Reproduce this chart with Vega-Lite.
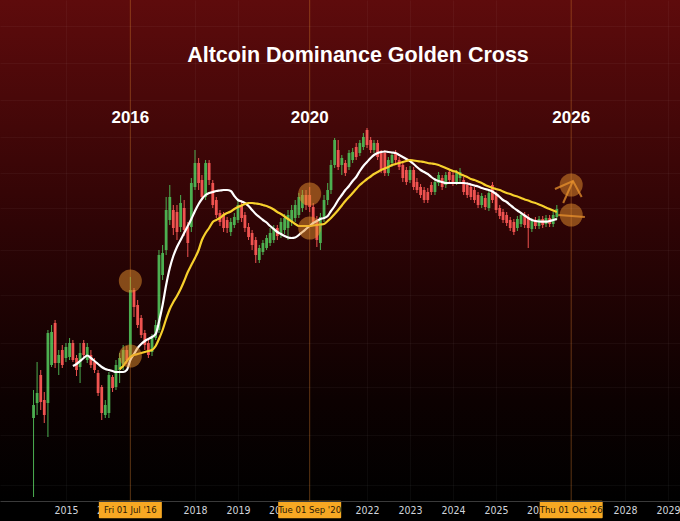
{
"$schema": "https://vega.github.io/schema/vega-lite/v6.json",
"width": 680, "height": 501, "padding": {"left":0,"right":0,"top":0,"bottom":20}, "autosize": {"type": "none"},
"background": "#000000",
"config": {"view": {"stroke": null}},
"datasets": {
"candles": [
{"date":"2014-04-01","open":10.3,"close":11.6,"high":13.1,"low":2.4},
{"date":"2014-05-01","open":11.8,"close":12.8,"high":15.9,"low":10.6},
{"date":"2014-06-01","open":14.6,"close":11.9,"high":15.1,"low":11.1},
{"date":"2014-07-01","open":12.1,"close":10.6,"high":12.9,"low":9.8},
{"date":"2014-08-01","open":11.8,"close":18.8,"high":19.1,"low":8.4},
{"date":"2014-09-01","open":15.6,"close":18.9,"high":19.6,"low":15.4},
{"date":"2014-10-01","open":19.8,"close":15.8,"high":20.1,"low":15.3},
{"date":"2014-11-01","open":15.8,"close":16.6,"high":17.1,"low":14.6},
{"date":"2014-12-01","open":17.1,"close":15.6,"high":17.6,"low":15.3},
{"date":"2015-01-01","open":16.3,"close":17.4,"high":17.8,"low":15.9},
{"date":"2015-02-01","open":16.4,"close":17.8,"high":18.3,"low":16.1},
{"date":"2015-03-01","open":17.8,"close":16.1,"high":18.1,"low":15.9,"fast":15.5},
{"date":"2015-04-01","open":16.3,"close":15.1,"high":16.6,"low":14.5,"fast":15.7},
{"date":"2015-05-01","open":15.4,"close":16.8,"high":17.8,"low":13.8,"fast":16.0},
{"date":"2015-06-01","open":17.8,"close":16.6,"high":18.1,"low":16.3,"fast":16.3},
{"date":"2015-07-01","open":16.1,"close":17.4,"high":17.8,"low":15.8,"fast":16.55},
{"date":"2015-08-01","open":16.6,"close":15.6,"high":17.1,"low":15.3,"fast":16.3},
{"date":"2015-09-01","open":15.9,"close":15.1,"high":16.3,"low":14.8,"fast":16.0},
{"date":"2015-10-01","open":14.8,"close":12.8,"high":15.1,"low":12.5,"fast":15.7},
{"date":"2015-11-01","open":13.4,"close":10.8,"high":13.6,"low":10.1,"fast":15.4},
{"date":"2015-12-01","open":10.6,"close":11.6,"high":12.1,"low":10.3,"fast":15.2},
{"date":"2016-01-01","open":10.8,"close":14.6,"high":14.9,"low":10.3,"fast":15.1},
{"date":"2016-02-01","open":14.4,"close":13.3,"high":14.6,"low":12.9,"fast":15.0},
{"date":"2016-03-01","open":13.4,"close":15.6,"high":16.1,"low":13.1,"fast":14.9},
{"date":"2016-04-01","open":15.1,"close":16.3,"high":16.8,"low":13.8,"fast":14.9,"slow":15.2},
{"date":"2016-05-01","open":15.6,"close":17.1,"high":17.6,"low":15.1,"fast":14.9,"slow":15.5},
{"date":"2016-06-01","open":17.1,"close":16.1,"high":17.5,"low":15.7,"fast":15.1,"slow":16.0},
{"date":"2016-07-01","open":16.4,"close":23.1,"high":24.4,"low":16.1,"fast":16.1,"slow":16.4},
{"date":"2016-08-01","open":23.1,"close":21.4,"high":23.3,"low":20.4,"fast":16.7,"slow":16.6},
{"date":"2016-09-01","open":21.6,"close":19.6,"high":22.1,"low":19.3,"fast":17.3,"slow":16.7},
{"date":"2016-10-01","open":20.3,"close":18.6,"high":20.6,"low":18.3,"fast":17.7,"slow":16.8},
{"date":"2016-11-01","open":18.8,"close":17.6,"high":19.1,"low":17.1,"fast":18.0,"slow":16.9},
{"date":"2016-12-01","open":17.8,"close":16.6,"high":18.1,"low":16.3,"fast":18.2,"slow":17.0},
{"date":"2017-01-01","open":16.9,"close":18.3,"high":18.7,"low":16.5,"fast":18.4,"slow":17.1},
{"date":"2017-02-01","open":18.3,"close":19.6,"high":20.1,"low":18.1,"fast":18.7,"slow":17.5},
{"date":"2017-03-01","open":19.1,"close":26.6,"high":27.1,"low":18.8,"fast":19.9,"slow":18.2},
{"date":"2017-04-01","open":24.6,"close":26.8,"high":27.6,"low":24.1,"fast":21.6,"slow":19.1},
{"date":"2017-05-01","open":27.1,"close":31.1,"high":32.4,"low":26.6,"fast":23.6,"slow":20.2},
{"date":"2017-06-01","open":30.1,"close":32.4,"high":33.6,"low":29.6,"fast":25.3,"slow":21.2},
{"date":"2017-07-01","open":31.1,"close":29.3,"high":31.6,"low":28.6,"fast":26.5,"slow":21.9},
{"date":"2017-08-01","open":30.9,"close":28.9,"high":31.6,"low":28.1,"fast":27.4,"slow":22.5},
{"date":"2017-09-01","open":29.4,"close":31.8,"high":32.6,"low":28.9,"fast":28.1,"slow":23.2},
{"date":"2017-10-01","open":31.3,"close":29.1,"high":32.1,"low":28.5,"fast":28.8,"slow":24.0},
{"date":"2017-11-01","open":29.4,"close":27.8,"high":29.9,"low":26.4,"fast":29.5,"slow":24.9},
{"date":"2017-12-01","open":29.4,"close":33.8,"high":34.3,"low":28.9,"fast":30.2,"slow":25.6},
{"date":"2018-01-01","open":33.4,"close":35.8,"high":37.1,"low":33.1,"fast":31.0,"slow":26.3},
{"date":"2018-02-01","open":35.8,"close":33.8,"high":36.3,"low":33.1,"fast":31.7,"slow":27.1},
{"date":"2018-03-01","open":34.1,"close":32.4,"high":34.6,"low":32.1,"fast":32.2,"slow":28.1},
{"date":"2018-04-01","open":32.4,"close":35.8,"high":36.1,"low":32.1,"fast":32.6,"slow":28.8},
{"date":"2018-05-01","open":35.8,"close":34.1,"high":36.1,"low":33.6,"fast":32.8,"slow":29.3},
{"date":"2018-06-01","open":33.8,"close":31.6,"high":34.1,"low":31.3,"fast":32.9,"slow":29.9},
{"date":"2018-07-01","open":32.1,"close":30.6,"high":32.4,"low":30.3,"fast":33.0,"slow":30.1},
{"date":"2018-08-01","open":30.8,"close":29.9,"high":31.1,"low":29.5,"fast":33.05,"slow":30.3},
{"date":"2018-09-01","open":30.6,"close":29.3,"high":30.9,"low":28.9,"fast":33.1,"slow":30.6},
{"date":"2018-10-01","open":30.1,"close":29.3,"high":30.4,"low":28.8,"fast":33.1,"slow":30.8},
{"date":"2018-11-01","open":28.9,"close":29.9,"high":30.3,"low":28.5,"fast":33.0,"slow":30.95},
{"date":"2018-12-01","open":29.6,"close":30.4,"high":30.8,"low":29.3,"fast":32.5,"slow":31.2},
{"date":"2019-01-01","open":30.1,"close":31.6,"high":32.1,"low":29.8,"fast":32.1,"slow":31.4},
{"date":"2019-02-01","open":31.6,"close":30.3,"high":32.1,"low":29.9,"fast":31.95,"slow":31.55},
{"date":"2019-03-01","open":30.6,"close":29.3,"high":30.9,"low":28.9,"fast":31.8,"slow":31.7},
{"date":"2019-04-01","open":29.4,"close":28.4,"high":29.8,"low":28.1,"fast":31.5,"slow":31.8},
{"date":"2019-05-01","open":28.8,"close":27.6,"high":29.1,"low":27.1,"fast":31.1,"slow":31.8},
{"date":"2019-06-01","open":28.1,"close":26.6,"high":28.4,"low":25.8,"fast":30.7,"slow":31.75},
{"date":"2019-07-01","open":26.1,"close":27.3,"high":27.6,"low":25.8,"fast":30.4,"slow":31.7},
{"date":"2019-08-01","open":26.9,"close":27.8,"high":28.1,"low":26.6,"fast":30.1,"slow":31.6},
{"date":"2019-09-01","open":27.3,"close":28.3,"high":28.6,"low":27.1,"fast":29.85,"slow":31.5},
{"date":"2019-10-01","open":27.8,"close":28.8,"high":29.3,"low":27.5,"fast":29.5,"slow":31.35},
{"date":"2019-11-01","open":28.1,"close":29.3,"high":29.6,"low":27.8,"fast":29.2,"slow":31.15},
{"date":"2019-12-01","open":29.3,"close":28.5,"high":29.6,"low":28.1,"fast":28.9,"slow":30.9},
{"date":"2020-01-01","open":28.6,"close":29.9,"high":30.3,"low":28.3,"fast":28.7,"slow":30.7},
{"date":"2020-02-01","open":29.1,"close":30.3,"high":30.7,"low":28.7,"fast":28.5,"slow":30.45},
{"date":"2020-03-01","open":29.3,"close":30.6,"high":31.1,"low":28.1,"fast":28.35,"slow":30.2},
{"date":"2020-04-01","open":29.9,"close":31.1,"high":31.6,"low":29.5,"fast":28.3,"slow":29.95},
{"date":"2020-05-01","open":30.3,"close":31.6,"high":32.1,"low":29.9,"fast":28.35,"slow":29.7},
{"date":"2020-06-01","open":30.6,"close":32.4,"high":32.8,"low":30.3,"fast":28.6,"slow":29.5},
{"date":"2020-07-01","open":31.3,"close":32.6,"high":33.1,"low":30.9,"fast":28.9,"slow":29.5},
{"date":"2020-08-01","open":32.6,"close":31.6,"high":33.1,"low":31.1,"fast":29.2,"slow":29.5},
{"date":"2020-09-01","open":32.6,"close":31.4,"high":33.4,"low":30.9,"fast":29.5,"slow":29.5},
{"date":"2020-10-01","open":31.4,"close":29.9,"high":31.8,"low":29.5,"fast":29.8,"slow":29.55},
{"date":"2020-11-01","open":30.1,"close":28.1,"high":30.5,"low":27.4,"fast":30.0,"slow":29.6},
{"date":"2020-12-01","open":27.8,"close":30.4,"high":30.8,"low":27.1,"fast":30.2,"slow":29.65},
{"date":"2021-01-01","open":30.4,"close":32.1,"high":32.6,"low":29.9,"fast":30.3,"slow":29.7},
{"date":"2021-02-01","open":32.1,"close":33.1,"high":33.8,"low":31.6,"fast":30.5,"slow":30.0},
{"date":"2021-03-01","open":33.1,"close":35.6,"high":36.1,"low":32.7,"fast":31.0,"slow":30.3},
{"date":"2021-04-01","open":35.6,"close":38.1,"high":38.3,"low":35.3,"fast":31.5,"slow":30.7},
{"date":"2021-05-01","open":37.1,"close":35.4,"high":38.1,"low":35.1,"fast":32.1,"slow":31.1},
{"date":"2021-06-01","open":35.6,"close":36.3,"high":36.6,"low":34.6,"fast":32.6,"slow":31.55},
{"date":"2021-07-01","open":35.8,"close":34.8,"high":36.1,"low":34.5,"fast":33.1,"slow":32.0},
{"date":"2021-08-01","open":35.4,"close":36.8,"high":37.1,"low":35.1,"fast":33.5,"slow":32.4},
{"date":"2021-09-01","open":36.1,"close":36.9,"high":37.3,"low":35.8,"fast":34.0,"slow":32.8},
{"date":"2021-10-01","open":37.4,"close":36.4,"high":37.8,"low":36.1,"fast":34.4,"slow":33.2},
{"date":"2021-11-01","open":36.8,"close":37.8,"high":38.1,"low":36.5,"fast":35.0,"slow":33.6},
{"date":"2021-12-01","open":37.4,"close":38.4,"high":38.8,"low":37.1,"fast":35.5,"slow":33.9},
{"date":"2022-01-01","open":39.1,"close":37.6,"high":39.3,"low":37.3,"fast":35.9,"slow":34.2},
{"date":"2022-02-01","open":38.1,"close":37.1,"high":38.4,"low":36.8,"fast":36.3,"slow":34.45},
{"date":"2022-03-01","open":37.1,"close":37.8,"high":38.1,"low":36.8,"fast":36.6,"slow":34.7},
{"date":"2022-04-01","open":37.8,"close":36.4,"high":38.1,"low":36.1,"fast":36.8,"slow":34.9},
{"date":"2022-05-01","open":36.8,"close":35.1,"high":37.1,"low":34.8,"fast":36.9,"slow":35.1},
{"date":"2022-06-01","open":36.8,"close":34.8,"high":37.1,"low":34.5,"fast":36.95,"slow":35.25},
{"date":"2022-07-01","open":34.8,"close":36.1,"high":36.4,"low":34.5,"fast":36.9,"slow":35.4},
{"date":"2022-08-01","open":35.8,"close":36.6,"high":36.9,"low":35.4,"fast":36.85,"slow":35.6},
{"date":"2022-09-01","open":36.8,"close":36.1,"high":37.1,"low":35.8,"fast":36.8,"slow":35.7},
{"date":"2022-10-01","open":36.1,"close":35.4,"high":36.4,"low":35.1,"fast":36.6,"slow":35.8},
{"date":"2022-11-01","open":35.6,"close":34.3,"high":35.9,"low":33.9,"fast":36.4,"slow":35.9},
{"date":"2022-12-01","open":35.1,"close":33.9,"high":35.4,"low":33.6,"fast":36.2,"slow":36.0},
{"date":"2023-01-01","open":34.1,"close":35.1,"high":35.5,"low":33.8,"fast":36.0,"slow":36.1},
{"date":"2023-02-01","open":35.1,"close":33.4,"high":35.4,"low":33.1,"fast":35.7,"slow":36.05},
{"date":"2023-03-01","open":33.9,"close":33.1,"high":34.3,"low":32.8,"fast":35.4,"slow":36.0},
{"date":"2023-04-01","open":33.4,"close":32.6,"high":33.7,"low":32.3,"fast":35.1,"slow":35.95},
{"date":"2023-05-01","open":33.1,"close":32.1,"high":33.4,"low":31.8,"fast":34.9,"slow":35.9},
{"date":"2023-06-01","open":32.9,"close":32.1,"high":33.3,"low":31.8,"fast":34.7,"slow":35.8},
{"date":"2023-07-01","open":33.6,"close":32.9,"high":33.9,"low":32.6,"fast":34.4,"slow":35.75},
{"date":"2023-08-01","open":32.9,"close":33.9,"high":34.3,"low":32.6,"fast":34.15,"slow":35.7},
{"date":"2023-09-01","open":33.8,"close":34.6,"high":34.9,"low":33.5,"fast":34.0,"slow":35.6},
{"date":"2023-10-01","open":34.3,"close":33.4,"high":34.6,"low":33.1,"fast":33.9,"slow":35.45},
{"date":"2023-11-01","open":33.6,"close":34.6,"high":34.9,"low":33.3,"fast":33.8,"slow":35.3},
{"date":"2023-12-01","open":34.9,"close":34.1,"high":35.1,"low":33.8,"fast":33.8,"slow":35.15},
{"date":"2024-01-01","open":34.6,"close":33.8,"high":34.9,"low":33.5,"fast":33.8,"slow":35.0},
{"date":"2024-02-01","open":33.9,"close":34.8,"high":35.1,"low":33.6,"fast":33.8,"slow":34.9},
{"date":"2024-03-01","open":34.3,"close":34.9,"high":35.3,"low":33.9,"fast":33.8,"slow":34.7},
{"date":"2024-04-01","open":34.1,"close":32.9,"high":34.4,"low":32.6,"fast":33.8,"slow":34.55},
{"date":"2024-05-01","open":33.6,"close":32.6,"high":33.9,"low":32.3,"fast":33.75,"slow":34.4},
{"date":"2024-06-01","open":33.4,"close":32.4,"high":33.7,"low":32.1,"fast":33.65,"slow":34.2},
{"date":"2024-07-01","open":33.1,"close":32.1,"high":33.4,"low":31.8,"fast":33.55,"slow":34.1},
{"date":"2024-08-01","open":32.6,"close":31.6,"high":32.9,"low":31.3,"fast":33.45,"slow":33.95},
{"date":"2024-09-01","open":31.6,"close":32.5,"high":32.8,"low":31.3,"fast":33.3,"slow":33.8},
{"date":"2024-10-01","open":32.3,"close":31.4,"high":32.6,"low":31.1,"fast":33.2,"slow":33.6},
{"date":"2024-11-01","open":31.3,"close":32.8,"high":33.1,"low":31.0,"fast":33.1,"slow":33.45},
{"date":"2024-12-01","open":33.6,"close":32.1,"high":33.9,"low":31.8,"fast":32.95,"slow":33.3},
{"date":"2025-01-01","open":32.6,"close":31.1,"high":32.9,"low":30.8,"fast":32.7,"slow":33.2},
{"date":"2025-02-01","open":31.3,"close":30.5,"high":31.6,"low":30.2,"fast":32.4,"slow":33.1},
{"date":"2025-03-01","open":30.9,"close":30.1,"high":31.2,"low":29.8,"fast":32.1,"slow":32.95},
{"date":"2025-04-01","open":30.6,"close":29.8,"high":30.9,"low":29.5,"fast":31.9,"slow":32.8},
{"date":"2025-05-01","open":30.1,"close":29.3,"high":30.4,"low":29.0,"fast":31.6,"slow":32.7},
{"date":"2025-06-01","open":29.9,"close":28.9,"high":30.2,"low":28.6,"fast":31.3,"slow":32.55},
{"date":"2025-07-01","open":29.3,"close":30.2,"high":30.5,"low":29.0,"fast":31.05,"slow":32.45},
{"date":"2025-08-01","open":29.7,"close":30.6,"high":30.9,"low":29.4,"fast":30.8,"slow":32.3},
{"date":"2025-09-01","open":30.6,"close":29.6,"high":30.9,"low":29.3,"fast":30.55,"slow":32.15},
{"date":"2025-10-01","open":30.4,"close":29.3,"high":30.7,"low":27.3,"fast":30.3,"slow":32.05},
{"date":"2025-11-01","open":29.2,"close":30.0,"high":30.3,"low":28.9,"fast":30.1,"slow":31.9},
{"date":"2025-12-01","open":30.1,"close":29.5,"high":30.4,"low":29.2,"fast":30.0,"slow":31.8},
{"date":"2026-01-01","open":29.5,"close":30.2,"high":30.5,"low":29.2,"fast":29.95,"slow":31.65},
{"date":"2026-02-01","open":30.2,"close":29.6,"high":30.5,"low":29.3,"fast":29.93,"slow":31.5},
{"date":"2026-03-01","open":29.7,"close":30.3,"high":30.6,"low":29.4,"fast":29.93,"slow":31.35},
{"date":"2026-04-01","open":30.3,"close":29.7,"high":30.6,"low":29.4,"fast":30.0,"slow":31.2},
{"date":"2026-05-01","open":29.7,"close":30.6,"high":30.9,"low":29.4,"fast":30.1,"slow":31.05},
{"date":"2026-06-01","open":30.4,"close":31.2,"high":31.6,"low":30.1,"fast":30.2,"slow":30.9}
],
"markers": [
{"date":"2016-07-01","label":"Fri 01 Jul '16","year":"2016"},
{"date":"2020-09-01","label":"Tue 01 Sep '20","year":"2020"},
{"date":"2026-10-01","label":"Thu 01 Oct '26","year":"2026"}
],
"circles": [
{"date":"2016-07-01","value":24.0},
{"date":"2016-07-01","value":16.5},
{"date":"2020-09-01","value":32.7},
{"date":"2020-09-01","value":29.3},
{"date":"2026-10-01","value":33.6},
{"date":"2026-10-01","value":30.6}
],
"arrow": [
{"seg":"a","date":"2026-07-25","value":31.8},
{"seg":"a","date":"2026-10-16","value":34.0},
{"seg":"b","date":"2026-05-16","value":33.2},
{"seg":"b","date":"2026-10-16","value":34.0},
{"seg":"b","date":"2026-12-29","value":32.4},
{"seg":"c","date":"2026-06-13","value":30.6},
{"seg":"c","date":"2027-01-25","value":30.4}
],
"hiddenYears": [
{"date":"2016-01-01","label":"2016"},
{"date":"2020-01-01","label":"2020"},
{"date":"2026-01-01","label":"2026"}
]
},
"layer": [
{"data":{"values":[{"bg":1}]},
 "mark":{"type":"rect","fill":{"gradient":"linear","x1":0,"y1":0,"x2":0,"y2":1,"stops":[{"offset":0,"color":"#5e0b0c"},{"offset":0.45,"color":"#2e0405"},{"offset":0.8,"color":"#0c0101"},{"offset":1,"color":"#000000"}]}},
 "encoding":{
  "y":{"datum":52.1,"type":"quantitative","scale":{"domain":[2.0,52.1],"nice":false,"zero":false,"padding":0}},
  "y2":{"datum":2.0}}},
{"data":{"name":"markers"},
 "mark":{"type":"rule","color":"#c8742a","opacity":0.45,"strokeWidth":1},
 "encoding":{"x":{"field":"date","type":"temporal","scale":{"type":"utc","nice":false,"padding":0,"domain":[1371686400000,1870646400000]}}}},
{"data":{"name":"candles"},
 "mark":{"type":"rule","strokeWidth":1},
 "encoding":{
  "x":{"field":"date","type":"temporal","scale":{"type":"utc","nice":false,"padding":0,"domain":[1371686400000,1870646400000]},
   "axis":{"orient":"bottom","title":null,"zindex":1,
    "values":[1420070400000,1514764800000,1546300800000,1640995200000,1672531200000,1704067200000,1735689600000,1830297600000,1861920000000],
    "format":"%Y","formatType":"utc",
    "labelColor":"#d1d4dc","labelFont":"Liberation Sans Narrow, DejaVu Sans Condensed, Liberation Sans","labelFontSize":10.5,
    "labelPadding":4,"labelFlush":false,"labelOverlap":false,"labelBound":false,"ticks":false,
    "domainColor":"#3a3a3a","grid":true,"gridColor":"#ffffff","gridOpacity":0.04}},
  "y":{"field":"low","type":"quantitative","scale":{"domain":[2.0,52.1],"nice":false,"zero":false,"padding":0},
   "axis":{"values":[3.6,8.6,13.4,17.8,22.6,27.1,31.3,34.8,38.4,42.1,45.8,49.5],"grid":true,"gridColor":"#ffffff","gridOpacity":0.04,"labels":false,"ticks":false,"domain":false,"title":null,"zindex":1}},
  "y2":{"field":"high"},
  "color":{"condition":{"test":"datum.close >= datum.open","value":"#4caf50"},"value":"#ef5350"}}},
{"data":{"name":"candles"},
 "mark":{"type":"bar","width":2.8},
 "encoding":{
  "x":{"field":"date","type":"temporal","scale":{"type":"utc","nice":false,"padding":0,"domain":[1371686400000,1870646400000]}},
  "y":{"field":"open","type":"quantitative","scale":{"domain":[2.0,52.1],"nice":false,"zero":false,"padding":0}},
  "y2":{"field":"close"},
  "color":{"condition":{"test":"datum.close >= datum.open","value":"#4caf50"},"value":"#ef5350"}}},
{"data":{"name":"candles"},
 "transform":[{"filter":"isValid(datum.fast)"}],
 "mark":{"type":"line","color":"#ffffff","strokeWidth":2.2,"interpolate":"monotone"},
 "encoding":{
  "x":{"field":"date","type":"temporal","scale":{"type":"utc","nice":false,"padding":0,"domain":[1371686400000,1870646400000]}},
  "y":{"field":"fast","type":"quantitative","scale":{"domain":[2.0,52.1],"nice":false,"zero":false,"padding":0}}}},
{"data":{"name":"candles"},
 "transform":[{"filter":"isValid(datum.slow)"}],
 "mark":{"type":"line","color":"#f7d02c","strokeWidth":2.2,"interpolate":"monotone"},
 "encoding":{
  "x":{"field":"date","type":"temporal","scale":{"type":"utc","nice":false,"padding":0,"domain":[1371686400000,1870646400000]}},
  "y":{"field":"slow","type":"quantitative","scale":{"domain":[2.0,52.1],"nice":false,"zero":false,"padding":0}}}},
{"data":{"name":"circles"},
 "mark":{"type":"circle","size":530,"color":"#e8912d","opacity":0.5},
 "encoding":{
  "x":{"field":"date","type":"temporal","scale":{"type":"utc","nice":false,"padding":0,"domain":[1371686400000,1870646400000]}},
  "y":{"field":"value","type":"quantitative","scale":{"domain":[2.0,52.1],"nice":false,"zero":false,"padding":0}}}},
{"data":{"name":"arrow"},
 "mark":{"type":"line","color":"#e8912d","opacity":0.75,"strokeWidth":2},
 "encoding":{
  "x":{"field":"date","type":"temporal","scale":{"type":"utc","nice":false,"padding":0,"domain":[1371686400000,1870646400000]}},
  "y":{"field":"value","type":"quantitative","scale":{"domain":[2.0,52.1],"nice":false,"zero":false,"padding":0}},
  "detail":{"field":"seg"}}},
{"data":{"name":"hiddenYears"},
 "mark":{"type":"text","color":"#d1d4dc","font":"Liberation Sans Narrow, DejaVu Sans Condensed, Liberation Sans","fontSize":10.5,"baseline":"middle","align":"center"},
 "encoding":{
  "x":{"field":"date","type":"temporal","scale":{"type":"utc","nice":false,"padding":0,"domain":[1371686400000,1870646400000]}},
  "y":{"datum":1.0,"type":"quantitative","scale":{"domain":[2.0,52.1],"nice":false,"zero":false,"padding":0}},
  "text":{"field":"label"}}},
{"data":{"name":"markers"},
 "mark":{"type":"bar","width":63,"color":"#f7a823","cornerRadius":1},
 "encoding":{
  "x":{"field":"date","type":"temporal","scale":{"type":"utc","nice":false,"padding":0,"domain":[1371686400000,1870646400000]}},
  "y":{"datum":2.03,"type":"quantitative","scale":{"domain":[2.0,52.1],"nice":false,"zero":false,"padding":0}},
  "y2":{"datum":0.27}}},
{"data":{"name":"markers"},
 "mark":{"type":"text","color":"#2a1a05","font":"Liberation Sans Narrow, DejaVu Sans Condensed, Liberation Sans","fontSize":9.5,"baseline":"middle","align":"center"},
 "encoding":{
  "x":{"field":"date","type":"temporal","scale":{"type":"utc","nice":false,"padding":0,"domain":[1371686400000,1870646400000]}},
  "y":{"datum":1.1,"type":"quantitative","scale":{"domain":[2.0,52.1],"nice":false,"zero":false,"padding":0}},
  "text":{"field":"label"}}},
{"data":{"name":"markers"},
 "mark":{"type":"text","color":"#ffffff","font":"Liberation Sans","fontWeight":"bold","fontSize":17,"baseline":"middle","align":"center"},
 "encoding":{
  "x":{"field":"date","type":"temporal","scale":{"type":"utc","nice":false,"padding":0,"domain":[1371686400000,1870646400000]}},
  "y":{"datum":40.3,"type":"quantitative","scale":{"domain":[2.0,52.1],"nice":false,"zero":false,"padding":0}},
  "text":{"field":"year"}}},
{"data":{"values":[{"t":"Altcoin Dominance Golden Cross"}]},
 "mark":{"type":"text","color":"#ffffff","font":"Liberation Sans","fontWeight":"bold","fontSize":21.5,"baseline":"middle","align":"center","dx":18},
 "encoding":{
  "y":{"datum":46.5,"type":"quantitative","scale":{"domain":[2.0,52.1],"nice":false,"zero":false,"padding":0}},
  "text":{"field":"t"}}}
]
}
